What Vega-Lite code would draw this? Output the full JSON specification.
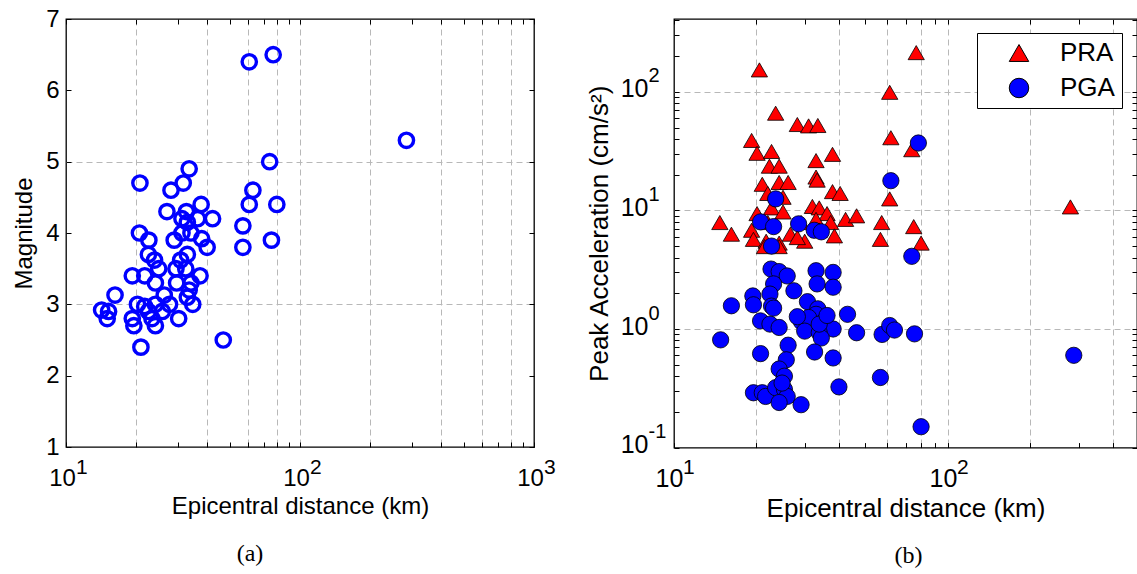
{
  "$schema": "https://vega.github.io/schema/vega-lite/v6.json",
  "background": "white",
  "padding": {"left": 12, "top": 4, "right": 0, "bottom": 0},
  "bounds": "flush",
  "spacing": 140,
  "config": {
    "font": "Liberation Sans",
    "view": {"stroke": "black", "strokeWidth": 1.3},
    "axis": {
      "labelColor": "black", "titleColor": "black", "tickColor": "black",
      "titleFontWeight": "normal", "labelFont": "Liberation Sans", "titleFont": "Liberation Sans",
      "domain": false, "grid": false, "labelOverlap": false, "labelFlush": false,
      "gridColor": "#b8b8b8", "gridDash": [6, 4], "gridWidth": 1, "gridOpacity": 1
    }
  },
  "datasets": {
    "mag": [
      {"distance": 60.7, "magnitude": 6.4}, {"distance": 76.8, "magnitude": 6.5}, {"distance": 285, "magnitude": 5.3},
      {"distance": 74.2, "magnitude": 5.0}, {"distance": 33.6, "magnitude": 4.9}, {"distance": 20.7, "magnitude": 4.7},
      {"distance": 31.7, "magnitude": 4.7}, {"distance": 28.1, "magnitude": 4.6}, {"distance": 62.9, "magnitude": 4.6},
      {"distance": 60.7, "magnitude": 4.4}, {"distance": 79.6, "magnitude": 4.4}, {"distance": 37.8, "magnitude": 4.4},
      {"distance": 27, "magnitude": 4.3}, {"distance": 32.7, "magnitude": 4.3}, {"distance": 42.3, "magnitude": 4.2},
      {"distance": 36.5, "magnitude": 4.2}, {"distance": 31.3, "magnitude": 4.2}, {"distance": 33, "magnitude": 4.15},
      {"distance": 57, "magnitude": 4.1}, {"distance": 20.6, "magnitude": 4.0}, {"distance": 31.3, "magnitude": 4.0},
      {"distance": 34.2, "magnitude": 4.0}, {"distance": 22.6, "magnitude": 3.9}, {"distance": 29, "magnitude": 3.9},
      {"distance": 38, "magnitude": 3.92}, {"distance": 75.5, "magnitude": 3.9}, {"distance": 40.1, "magnitude": 3.8},
      {"distance": 57, "magnitude": 3.8}, {"distance": 22.5, "magnitude": 3.7}, {"distance": 23.9, "magnitude": 3.62},
      {"distance": 33, "magnitude": 3.7}, {"distance": 30.9, "magnitude": 3.62}, {"distance": 24.9, "magnitude": 3.5},
      {"distance": 29.5, "magnitude": 3.5}, {"distance": 32.5, "magnitude": 3.5}, {"distance": 19.2, "magnitude": 3.4},
      {"distance": 21.7, "magnitude": 3.4}, {"distance": 37.4, "magnitude": 3.4}, {"distance": 24.1, "magnitude": 3.3},
      {"distance": 29.7, "magnitude": 3.3}, {"distance": 34.2, "magnitude": 3.3}, {"distance": 33.6, "magnitude": 3.2},
      {"distance": 16.2, "magnitude": 3.13}, {"distance": 26.3, "magnitude": 3.13}, {"distance": 33, "magnitude": 3.1},
      {"distance": 14.2, "magnitude": 2.92}, {"distance": 15.2, "magnitude": 2.9}, {"distance": 15, "magnitude": 2.8},
      {"distance": 20.2, "magnitude": 3.0}, {"distance": 21.7, "magnitude": 2.97}, {"distance": 22.5, "magnitude": 2.9},
      {"distance": 24.1, "magnitude": 3.0}, {"distance": 25.8, "magnitude": 2.9}, {"distance": 27.7, "magnitude": 3.0},
      {"distance": 34.8, "magnitude": 3.0}, {"distance": 19.2, "magnitude": 2.8}, {"distance": 30.3, "magnitude": 2.8},
      {"distance": 19.5, "magnitude": 2.7}, {"distance": 24.1, "magnitude": 2.7}, {"distance": 23.3, "magnitude": 2.8},
      {"distance": 20.9, "magnitude": 2.4}, {"distance": 47, "magnitude": 2.5}
    ],
    "acc": [
      {"distance": 20.5, "type": "PRA", "accel": 153}, {"distance": 76.6, "type": "PRA", "accel": 214},
      {"distance": 61.3, "type": "PRA", "accel": 99}, {"distance": 23.5, "type": "PRA", "accel": 66},
      {"distance": 28.2, "type": "PRA", "accel": 53}, {"distance": 31, "type": "PRA", "accel": 51.6},
      {"distance": 33.5, "type": "PRA", "accel": 52}, {"distance": 19.2, "type": "PRA", "accel": 38.9},
      {"distance": 61.9, "type": "PRA", "accel": 41}, {"distance": 73.8, "type": "PRA", "accel": 32.5},
      {"distance": 20.1, "type": "PRA", "accel": 30.3}, {"distance": 22.7, "type": "PRA", "accel": 31.4},
      {"distance": 37.9, "type": "PRA", "accel": 29.7}, {"distance": 22.3, "type": "PRA", "accel": 23.6},
      {"distance": 24.2, "type": "PRA", "accel": 23.6}, {"distance": 33, "type": "PRA", "accel": 26.3},
      {"distance": 33, "type": "PRA", "accel": 19.1}, {"distance": 33.3, "type": "PRA", "accel": 18},
      {"distance": 21, "type": "PRA", "accel": 16.6}, {"distance": 24.2, "type": "PRA", "accel": 17.2},
      {"distance": 26.1, "type": "PRA", "accel": 17.2}, {"distance": 37.9, "type": "PRA", "accel": 14.4},
      {"distance": 40.4, "type": "PRA", "accel": 13.9}, {"distance": 61.3, "type": "PRA", "accel": 12.5},
      {"distance": 280, "type": "PRA", "accel": 10.7}, {"distance": 22, "type": "PRA", "accel": 13.9},
      {"distance": 25, "type": "PRA", "accel": 12.9}, {"distance": 20.1, "type": "PRA", "accel": 9.4},
      {"distance": 22.7, "type": "PRA", "accel": 10.5}, {"distance": 25, "type": "PRA", "accel": 9.7},
      {"distance": 32, "type": "PRA", "accel": 10.8}, {"distance": 33.9, "type": "PRA", "accel": 10.5},
      {"distance": 36.2, "type": "PRA", "accel": 9.4}, {"distance": 42.3, "type": "PRA", "accel": 8.4},
      {"distance": 46.4, "type": "PRA", "accel": 9.0}, {"distance": 14.7, "type": "PRA", "accel": 7.9},
      {"distance": 16.2, "type": "PRA", "accel": 6.3}, {"distance": 57.3, "type": "PRA", "accel": 7.9},
      {"distance": 75, "type": "PRA", "accel": 7.3}, {"distance": 19.2, "type": "PRA", "accel": 6.8},
      {"distance": 22, "type": "PRA", "accel": 7.9}, {"distance": 29.1, "type": "PRA", "accel": 7.9},
      {"distance": 33, "type": "PRA", "accel": 8.4}, {"distance": 37.3, "type": "PRA", "accel": 7.9},
      {"distance": 19.5, "type": "PRA", "accel": 5.7}, {"distance": 21.7, "type": "PRA", "accel": 5.5},
      {"distance": 24.2, "type": "PRA", "accel": 5.3}, {"distance": 26.6, "type": "PRA", "accel": 6.3},
      {"distance": 30, "type": "PRA", "accel": 5.5}, {"distance": 38.5, "type": "PRA", "accel": 6.1},
      {"distance": 56.7, "type": "PRA", "accel": 5.7}, {"distance": 79.8, "type": "PRA", "accel": 5.3},
      {"distance": 21.4, "type": "PRA", "accel": 4.95}, {"distance": 24.2, "type": "PRA", "accel": 4.95},
      {"distance": 28.2, "type": "PRA", "accel": 5.9}, {"distance": 33.9, "type": "PRA", "accel": 6.8},
      {"distance": 78, "type": "PGA", "accel": 37}, {"distance": 61.9, "type": "PGA", "accel": 17.8},
      {"distance": 23.5, "type": "PGA", "accel": 12.5}, {"distance": 20.7, "type": "PGA", "accel": 8},
      {"distance": 23.1, "type": "PGA", "accel": 7.3}, {"distance": 28.5, "type": "PGA", "accel": 7.7},
      {"distance": 32.5, "type": "PGA", "accel": 6.8}, {"distance": 34.5, "type": "PGA", "accel": 6.6},
      {"distance": 22.7, "type": "PGA", "accel": 5.0}, {"distance": 73.8, "type": "PGA", "accel": 4.1},
      {"distance": 22.6, "type": "PGA", "accel": 3.2}, {"distance": 24.2, "type": "PGA", "accel": 3.05},
      {"distance": 25.9, "type": "PGA", "accel": 2.8}, {"distance": 33, "type": "PGA", "accel": 3.1},
      {"distance": 38.1, "type": "PGA", "accel": 3.0}, {"distance": 23.1, "type": "PGA", "accel": 2.4},
      {"distance": 27.4, "type": "PGA", "accel": 2.1}, {"distance": 33.3, "type": "PGA", "accel": 2.4},
      {"distance": 38.1, "type": "PGA", "accel": 2.25}, {"distance": 19.4, "type": "PGA", "accel": 1.9},
      {"distance": 22.4, "type": "PGA", "accel": 1.97}, {"distance": 19.5, "type": "PGA", "accel": 1.6},
      {"distance": 22.7, "type": "PGA", "accel": 1.56}, {"distance": 16.2, "type": "PGA", "accel": 1.57},
      {"distance": 30.7, "type": "PGA", "accel": 1.7}, {"distance": 33.5, "type": "PGA", "accel": 1.48},
      {"distance": 43, "type": "PGA", "accel": 1.33}, {"distance": 33, "type": "PGA", "accel": 1.33},
      {"distance": 20.7, "type": "PGA", "accel": 1.17}, {"distance": 22.4, "type": "PGA", "accel": 1.1},
      {"distance": 29.2, "type": "PGA", "accel": 1.15}, {"distance": 31, "type": "PGA", "accel": 1.25},
      {"distance": 35.1, "type": "PGA", "accel": 1.15}, {"distance": 24.2, "type": "PGA", "accel": 1.03},
      {"distance": 38.1, "type": "PGA", "accel": 1.0}, {"distance": 30, "type": "PGA", "accel": 0.96},
      {"distance": 33.9, "type": "PGA", "accel": 0.93}, {"distance": 46.4, "type": "PGA", "accel": 0.93},
      {"distance": 57.5, "type": "PGA", "accel": 0.9}, {"distance": 61.3, "type": "PGA", "accel": 1.07},
      {"distance": 63.8, "type": "PGA", "accel": 0.98}, {"distance": 75.5, "type": "PGA", "accel": 0.91},
      {"distance": 14.8, "type": "PGA", "accel": 0.81}, {"distance": 34.5, "type": "PGA", "accel": 0.84},
      {"distance": 26.1, "type": "PGA", "accel": 0.73}, {"distance": 20.7, "type": "PGA", "accel": 0.62},
      {"distance": 32.6, "type": "PGA", "accel": 0.64}, {"distance": 38.1, "type": "PGA", "accel": 0.57},
      {"distance": 288, "type": "PGA", "accel": 0.6}, {"distance": 25.7, "type": "PGA", "accel": 0.55},
      {"distance": 24.2, "type": "PGA", "accel": 0.46}, {"distance": 25.3, "type": "PGA", "accel": 0.4},
      {"distance": 56.7, "type": "PGA", "accel": 0.39}, {"distance": 40, "type": "PGA", "accel": 0.325},
      {"distance": 19.5, "type": "PGA", "accel": 0.29}, {"distance": 21, "type": "PGA", "accel": 0.29},
      {"distance": 21.6, "type": "PGA", "accel": 0.27}, {"distance": 23.5, "type": "PGA", "accel": 0.32},
      {"distance": 25.3, "type": "PGA", "accel": 0.31}, {"distance": 25.9, "type": "PGA", "accel": 0.27},
      {"distance": 24.2, "type": "PGA", "accel": 0.24}, {"distance": 29.1, "type": "PGA", "accel": 0.23},
      {"distance": 79.8, "type": "PGA", "accel": 0.15}, {"distance": 33.9, "type": "PGA", "accel": 1.1},
      {"distance": 36.2, "type": "PGA", "accel": 1.3}, {"distance": 28.2, "type": "PGA", "accel": 1.27},
      {"distance": 23.1, "type": "PGA", "accel": 1.5}, {"distance": 24.8, "type": "PGA", "accel": 0.35}
    ]
  },
  "hconcat": [
    {
      "width": 468, "height": 428,
      "data": {"name": "mag"},
      "title": {"text": "(a)", "orient": "bottom", "font": "Liberation Serif", "fontSize": 24, "fontWeight": "normal", "color": "black", "anchor": "middle", "dx": -50, "offset": 24},
      "resolve": {"axis": {"x": "independent", "y": "independent"}},
      "layer": [
        {
          "mark": {"type": "point", "shape": "circle", "filled": false, "color": "#0000ff", "strokeWidth": 3.4, "size": 205, "opacity": 1},
          "encoding": {
            "x": {"field": "distance", "type": "quantitative",
              "scale": {"type": "log", "domain": [10, 1000], "nice": false},
              "axis": {"orient": "bottom", "values": [10,20,30,40,50,60,70,80,90,100,200,300,400,500,600,700,800,900,1000],
                "labelExpr": "(datum.value == 10 || datum.value == 100 || datum.value == 1000) ? '10' : ''",
                "labelFontSize": 24, "labelOffset": -4, "labelPadding": 24, "tickSize": -5,
                "title": "Epicentral distance (km)", "titleFontSize": 24, "titlePadding": 4}},
            "y": {"field": "magnitude", "type": "quantitative",
              "scale": {"domain": [1, 7], "nice": false, "zero": false},
              "axis": {"orient": "left", "values": [1,2,3,4,5,6,7], "labelFontSize": 24, "labelPadding": 12, "tickSize": -5,
                "title": "Magnitude", "titleFontSize": 24, "titlePadding": 9}}
          }
        },
        {
          "mark": {"type": "point", "opacity": 0},
          "encoding": {
            "x": {"field": "distance", "type": "quantitative", "scale": {"type": "log", "domain": [10, 1000], "nice": false},
              "axis": {"orient": "top", "values": [10,20,30,40,50,60,70,80,90,100,200,300,400,500,600,700,800,900,1000], "labels": false, "tickSize": -5, "title": null}},
            "y": {"field": "magnitude", "type": "quantitative", "scale": {"domain": [1, 7], "nice": false, "zero": false},
              "axis": {"orient": "right", "values": [1,2,3,4,5,6,7], "labels": false, "tickSize": -5, "title": null}}
          }
        },
        {
          "mark": {"type": "point", "opacity": 0},
          "encoding": {
            "x": {"field": "distance", "type": "quantitative", "scale": {"type": "log", "domain": [10, 1000], "nice": false},
              "axis": {"orient": "bottom", "values": [20,40,60,80,100,200,400,600,800], "labels": false, "ticks": false, "grid": true, "title": null}},
            "y": {"field": "magnitude", "type": "quantitative", "scale": {"domain": [1, 7], "nice": false, "zero": false},
              "axis": {"orient": "left", "values": [3,5], "labels": false, "ticks": false, "grid": true, "title": null}}
          }
        },
        {
          "mark": {"type": "point", "opacity": 0},
          "encoding": {
            "x": {"field": "distance", "type": "quantitative", "scale": {"type": "log", "domain": [10, 1000], "nice": false},
              "axis": {"orient": "bottom", "values": [10,100,1000], "labelExpr": "datum.value == 10 ? '1' : datum.value == 100 ? '2' : '3'",
                "labelFontSize": 21, "labelAlign": "left", "labelOffset": 9.5, "labelPadding": 9, "ticks": false, "title": null}},
            "y": {"field": "magnitude", "type": "quantitative", "scale": {"domain": [1, 7], "nice": false, "zero": false}, "axis": null}
          }
        }
      ]
    },
    {
      "width": 463, "height": 428.6,
      "data": {"name": "acc"},
      "title": {"text": "(b)", "orient": "bottom", "font": "Liberation Serif", "fontSize": 24, "fontWeight": "normal", "color": "black", "anchor": "middle", "dx": 3, "offset": 22},
      "resolve": {"axis": {"x": "independent", "y": "independent"}},
      "layer": [
        {
          "mark": {"type": "point", "filled": true, "stroke": "black", "strokeWidth": 0.8, "size": 265, "opacity": 1},
          "encoding": {
            "x": {"field": "distance", "type": "quantitative",
              "scale": {"type": "log", "domain": [10, 490], "nice": false},
              "axis": {"orient": "bottom", "values": [10,20,30,40,50,60,70,80,90,100,200,300,400],
                "labelExpr": "(datum.value == 10 || datum.value == 100) ? '10' : ''",
                "labelFontSize": 25, "labelOffset": -5, "labelPadding": 24, "tickSize": -5,
                "title": "Epicentral distance (km)", "titleFontSize": 26, "titlePadding": 4}},
            "y": {"field": "accel", "type": "quantitative",
              "scale": {"type": "log", "domain": [0.1, 411], "nice": false},
              "axis": {"orient": "left", "values": [0.1,0.2,0.3,0.4,0.5,0.6,0.7,0.8,0.9,1,2,3,4,5,6,7,8,9,10,20,30,40,50,60,70,80,90,100,200,300,400],
                "labelExpr": "(datum.value == 0.1 || datum.value == 1 || datum.value == 10 || datum.value == 100) ? '10' : ''",
                "labelFontSize": 25, "labelPadding": 31, "labelOffset": -3, "tickSize": -5,
                "title": "Peak Acceleration (cm/s²)", "titleFontSize": 26, "titlePadding": 8}},
            "color": {"field": "type", "type": "nominal",
              "scale": {"domain": ["PRA", "PGA"], "range": ["#ff0000", "#0000ff"]},
              "legend": {"title": null, "orient": "none", "legendX": 911, "legendY": 14, "fillColor": "white", "strokeColor": "black",
                "padding": 7, "labelFontSize": 26, "labelColor": "black", "symbolSize": 380, "symbolStrokeColor": "black",
                "symbolStrokeWidth": 1, "symbolOpacity": 1, "rowPadding": 9, "labelOffset": 28, "symbolOffset": 22,
                "labelExpr": "datum.label + '  '",
                "encode": {"symbols": {"update": {"stroke": {"value": "black"}, "strokeWidth": {"value": 1}}}}}},
            "shape": {"field": "type", "type": "nominal",
              "scale": {"domain": ["PRA", "PGA"], "range": ["triangle-up", "circle"]},
              "legend": {"title": null, "orient": "none", "legendX": 911, "legendY": 14, "fillColor": "white", "strokeColor": "black",
                "padding": 7, "labelFontSize": 26, "labelColor": "black", "symbolSize": 380, "symbolStrokeColor": "black",
                "symbolStrokeWidth": 1, "symbolOpacity": 1, "rowPadding": 9, "labelOffset": 28, "symbolOffset": 22,
                "labelExpr": "datum.label + '  '",
                "encode": {"symbols": {"update": {"stroke": {"value": "black"}, "strokeWidth": {"value": 1}}}}}}
          }
        },
        {
          "mark": {"type": "point", "opacity": 0},
          "encoding": {
            "x": {"field": "distance", "type": "quantitative", "scale": {"type": "log", "domain": [10, 490], "nice": false},
              "axis": {"orient": "top", "values": [10,20,30,40,50,60,70,80,90,100,200,300,400], "labels": false, "tickSize": -5, "title": null}},
            "y": {"field": "accel", "type": "quantitative", "scale": {"type": "log", "domain": [0.1, 411], "nice": false},
              "axis": {"orient": "right", "values": [0.1,0.2,0.3,0.4,0.5,0.6,0.7,0.8,0.9,1,2,3,4,5,6,7,8,9,10,20,30,40,50,60,70,80,90,100,200,300,400], "labels": false, "tickSize": -5, "title": null}}
          }
        },
        {
          "mark": {"type": "point", "opacity": 0},
          "encoding": {
            "x": {"field": "distance", "type": "quantitative", "scale": {"type": "log", "domain": [10, 490], "nice": false},
              "axis": {"orient": "bottom", "values": [20,40,60,80,100,200,400], "labels": false, "ticks": false, "grid": true, "title": null}},
            "y": {"field": "accel", "type": "quantitative", "scale": {"type": "log", "domain": [0.1, 411], "nice": false},
              "axis": {"orient": "left", "values": [1,10,100], "labels": false, "ticks": false, "grid": true, "title": null}}
          }
        },
        {
          "mark": {"type": "point", "opacity": 0},
          "encoding": {
            "x": {"field": "distance", "type": "quantitative", "scale": {"type": "log", "domain": [10, 490], "nice": false},
              "axis": {"orient": "bottom", "values": [10,100], "labelExpr": "datum.value == 10 ? '1' : '2'",
                "labelFontSize": 21, "labelAlign": "left", "labelOffset": 8.5, "labelPadding": 9, "ticks": false, "title": null}},
            "y": {"field": "accel", "type": "quantitative", "scale": {"type": "log", "domain": [0.1, 411], "nice": false},
              "axis": {"orient": "left", "values": [0.1,1,10,100], "labelExpr": "datum.value == 0.1 ? '-1' : datum.value == 1 ? '0' : datum.value == 10 ? '1' : '2'",
                "labelFontSize": 20, "labelAlign": "left", "labelOffset": -16, "labelPadding": 26, "ticks": false, "title": null}}
          }
        }
      ]
    }
  ]
}
